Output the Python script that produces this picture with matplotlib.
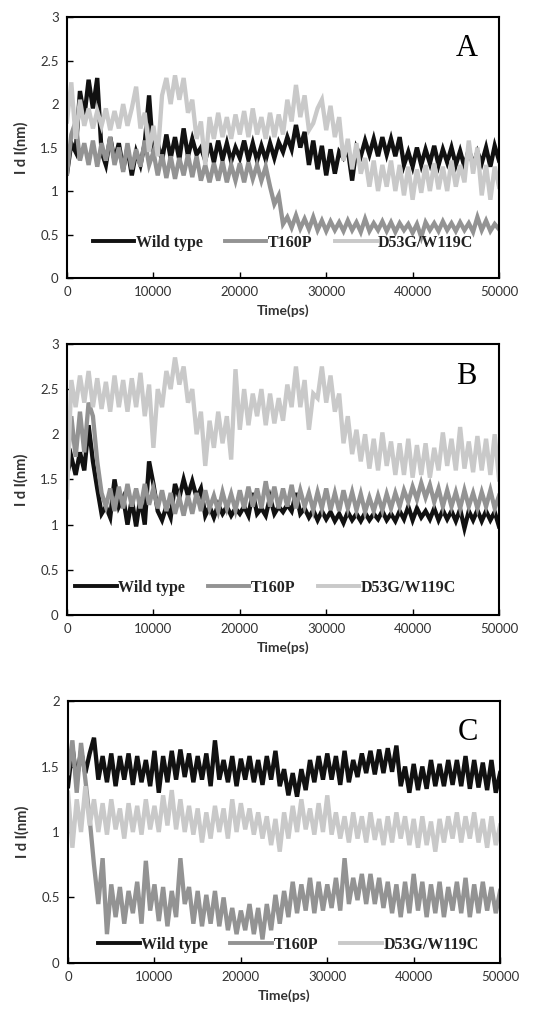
import numpy as np
import matplotlib.pyplot as plt

# time axis (ps), one reading every 500 ps
time_ps = np.arange(0, 50001, 500)

labels = ["Wild type", "T160P", "D53G/W119C"]
colors = ["#111111", "#939393", "#c9c9c9"]

# ---------------- panel A ----------------
wt_a = [1.20, 1.55, 1.45, 2.15, 1.85, 2.28, 1.95, 2.30, 1.45, 1.30,
        1.62, 1.35, 1.55, 1.25, 1.50, 1.18, 1.45, 1.30, 1.55, 2.10,
        1.40, 1.55, 1.35, 1.65, 1.38, 1.62, 1.36, 1.72, 1.40, 1.60,
        1.42, 1.50, 1.35, 1.55, 1.33, 1.58, 1.36, 1.55, 1.34, 1.50,
        1.38, 1.58, 1.36, 1.55, 1.35, 1.52, 1.36, 1.55, 1.38, 1.56,
        1.45, 1.62, 1.48, 1.76, 1.50, 1.68, 1.30, 1.58, 1.25, 1.52,
        1.18, 1.48, 1.20, 1.45, 1.38, 1.48, 1.12, 1.50, 1.40, 1.58,
        1.42, 1.60, 1.40, 1.62, 1.42, 1.60, 1.40, 1.62, 1.30, 1.45,
        1.28, 1.50, 1.30, 1.48, 1.32, 1.52, 1.30, 1.48, 1.33, 1.50,
        1.30, 1.46, 1.28, 1.48, 1.30, 1.45, 1.32, 1.50, 1.28, 1.52,
        1.35]
t160p_a = [1.20, 1.65, 1.80, 1.35, 1.55, 1.30, 1.58, 1.28, 1.55, 1.35,
           1.62, 1.30, 1.50, 1.22, 1.55, 1.25, 1.48, 1.28, 1.58, 1.30,
           1.45, 1.18, 1.42, 1.15, 1.40, 1.14, 1.38, 1.18, 1.42, 1.16,
           1.40, 1.12, 1.30, 1.10, 1.32, 1.12, 1.34, 1.10, 1.30, 1.12,
           1.32, 1.10, 1.33, 1.14, 1.30, 1.12, 1.28, 1.05, 0.85, 0.95,
           0.62, 0.70, 0.58, 0.72, 0.57, 0.68, 0.56, 0.70, 0.55, 0.66,
           0.54, 0.65, 0.55, 0.64, 0.54, 0.66, 0.55, 0.64, 0.53, 0.68,
           0.54, 0.63, 0.55, 0.65, 0.54, 0.64, 0.53, 0.63, 0.55, 0.62,
           0.52, 0.62, 0.47, 0.64, 0.55, 0.63, 0.54, 0.65, 0.55, 0.63,
           0.54, 0.64, 0.55, 0.63, 0.53, 0.70, 0.55, 0.66, 0.54, 0.62,
           0.56]
d53g_a = [1.80, 2.25, 1.60, 2.05, 1.75, 1.95, 1.72, 1.92, 1.75, 1.95,
          1.70, 1.92, 1.72, 2.00, 1.75, 1.95, 2.20, 1.72, 1.90, 1.45,
          1.75, 1.40, 2.10, 2.30, 2.00, 2.33, 2.05, 2.30, 1.90, 2.05,
          1.60, 1.80, 1.30, 1.85, 1.60, 1.90, 1.62, 1.85, 1.60, 1.88,
          1.65, 1.92, 1.62, 1.95, 1.65, 1.85, 1.60, 1.90, 1.62, 1.88,
          1.65, 2.05, 1.80, 2.22, 1.85, 2.10, 1.70, 1.78, 1.95, 2.05,
          1.70, 1.98, 1.62, 1.85, 1.35, 1.60, 1.25, 1.55, 1.20, 1.38,
          1.05, 1.35, 1.00, 1.30, 1.05, 1.35, 1.00, 1.30, 0.95, 1.28,
          0.90, 1.25, 0.98, 1.30, 1.00, 1.32, 1.02, 1.28, 1.00, 1.35,
          1.05, 1.30, 1.10, 1.58, 1.20, 1.50, 0.95, 1.30, 0.90, 1.28,
          1.05]

# ---------------- panel B ----------------
wt_b = [1.55, 1.75, 1.55, 1.80, 1.60, 2.10, 1.70, 1.40, 1.12, 1.20,
        1.08, 1.50, 1.20, 1.30, 1.00, 1.28, 0.98, 1.30, 1.00, 1.70,
        1.45, 1.15, 1.05, 1.20, 1.08, 1.45, 1.30, 1.50, 1.32, 1.48,
        1.30, 1.40, 1.10, 1.20, 1.08, 1.22, 1.12, 1.20, 1.10, 1.18,
        1.12, 1.20, 1.10, 1.35, 1.12, 1.18, 1.10, 1.30, 1.12, 1.20,
        1.14, 1.22, 1.15, 1.35, 1.12, 1.18, 1.08, 1.16, 1.05, 1.15,
        1.06, 1.14, 1.04, 1.12, 1.02, 1.14, 1.05, 1.12, 1.04, 1.13,
        1.05, 1.12, 1.06, 1.15, 1.05, 1.12, 1.04, 1.15, 1.06, 1.20,
        1.05, 1.18, 1.08, 1.15, 1.06, 1.18, 1.05, 1.16, 1.06, 1.15,
        1.04, 1.17, 0.96, 1.15, 1.05, 1.16, 1.04, 1.15, 1.05, 1.14,
        0.98]
t160p_b = [1.60, 2.20, 1.75, 2.25, 1.80, 2.35, 2.20, 1.70, 1.35, 1.20,
           1.40, 1.15, 1.42, 1.18, 1.45, 1.20, 1.40, 1.18, 1.45, 1.22,
           1.40, 1.18, 1.38, 1.15, 1.35, 1.12, 1.30, 1.10, 1.32, 1.12,
           1.35, 1.15, 1.38, 1.18, 1.32, 1.15, 1.36, 1.18, 1.34, 1.16,
           1.38, 1.18, 1.42, 1.20, 1.40, 1.18, 1.48, 1.20, 1.42, 1.18,
           1.40, 1.20, 1.44, 1.18, 1.38, 1.20, 1.35, 1.16, 1.36, 1.18,
           1.40, 1.16, 1.35, 1.15, 1.38, 1.18, 1.36, 1.16, 1.34, 1.14,
           1.30, 1.15, 1.32, 1.16, 1.34, 1.18, 1.35, 1.20, 1.38, 1.25,
           1.42, 1.28, 1.46, 1.30, 1.44, 1.25, 1.40, 1.20, 1.38, 1.20,
           1.36, 1.18, 1.38, 1.20, 1.35, 1.18, 1.36, 1.20, 1.38, 1.18,
           1.32]
d53g_b = [1.30, 2.60, 2.30, 2.65, 2.35, 2.70, 2.30, 2.62, 2.28, 2.58,
          2.25, 2.65, 2.30, 2.60, 2.25, 2.62, 2.30, 2.68, 2.20, 2.55,
          1.85, 2.50, 2.30, 2.70, 2.50, 2.85, 2.55, 2.75, 2.35, 2.50,
          2.00, 2.25, 1.65, 2.15, 1.85, 2.25, 1.90, 2.20, 1.72, 2.72,
          2.05, 2.50, 2.10, 2.45, 2.20, 2.50, 2.10, 2.45, 2.12, 2.40,
          2.15, 2.55, 2.30, 2.75, 2.30, 2.60, 2.05, 2.45, 2.40, 2.75,
          2.35, 2.65, 2.25, 2.45, 1.90, 2.20, 1.78, 2.05, 1.70, 2.00,
          1.62, 1.95, 1.60, 2.02, 1.65, 1.92, 1.55, 1.90, 1.55, 1.95,
          1.52, 1.88, 1.55, 1.90, 1.52, 1.85, 1.60, 2.02, 1.65, 1.95,
          1.60, 2.08, 1.62, 1.92, 1.58, 1.98, 1.60, 1.95, 1.55, 2.00,
          1.50]

# ---------------- panel C ----------------
wt_c = [1.35, 1.65, 1.40, 1.62, 1.45, 1.60, 1.72, 1.40, 1.58, 1.38,
        1.60, 1.35, 1.58, 1.40, 1.60, 1.36, 1.58, 1.38, 1.55, 1.35,
        1.62, 1.30, 1.58, 1.38, 1.62, 1.40, 1.63, 1.42, 1.60, 1.38,
        1.58, 1.40, 1.60, 1.35, 1.70, 1.40, 1.55, 1.38, 1.58, 1.35,
        1.56, 1.40, 1.58, 1.38, 1.55, 1.36, 1.58, 1.40, 1.62, 1.35,
        1.48, 1.28, 1.45, 1.27, 1.48, 1.32, 1.55, 1.38, 1.58, 1.40,
        1.60, 1.40, 1.58, 1.36, 1.62, 1.38, 1.55, 1.42, 1.60, 1.45,
        1.62, 1.44, 1.63, 1.45, 1.64, 1.46, 1.66, 1.35, 1.50, 1.30,
        1.52, 1.32, 1.50, 1.33, 1.55, 1.35, 1.52, 1.35, 1.55, 1.36,
        1.55, 1.35, 1.58, 1.33, 1.55, 1.34, 1.53, 1.32, 1.55, 1.30,
        1.45]
t160p_c = [1.45, 1.70, 1.30, 1.68, 1.40, 1.10, 0.75, 0.45, 0.80, 0.22,
           0.60, 0.35, 0.58, 0.30, 0.55, 0.38, 0.62, 0.30, 0.78, 0.40,
           0.60, 0.32, 0.58, 0.28, 0.55, 0.35, 0.80, 0.45, 0.58, 0.30,
           0.55, 0.28, 0.52, 0.30, 0.55, 0.28, 0.50, 0.25, 0.42, 0.22,
           0.40, 0.25, 0.45, 0.22, 0.42, 0.18, 0.45, 0.25, 0.52, 0.30,
           0.55, 0.35, 0.62, 0.38, 0.60, 0.40, 0.65, 0.38, 0.62, 0.40,
           0.60, 0.42, 0.65, 0.40, 0.80, 0.45, 0.65, 0.48, 0.68, 0.45,
           0.68, 0.45, 0.65, 0.42, 0.62, 0.38, 0.60, 0.35, 0.62, 0.38,
           0.68, 0.40, 0.62, 0.35, 0.60, 0.38, 0.62, 0.35, 0.58, 0.40,
           0.62, 0.38, 0.65, 0.35, 0.60, 0.38, 0.62, 0.40, 0.58, 0.38,
           0.55]
d53g_c = [1.30, 0.88, 1.25, 1.00, 1.35, 1.05, 1.25, 1.00, 1.22, 0.98,
          1.25, 1.02, 1.18, 0.95, 1.22, 1.00, 1.20, 0.98, 1.25, 1.02,
          1.20, 1.00, 1.28, 1.05, 1.32, 1.02, 1.25, 1.00, 1.20, 0.98,
          1.18, 0.92, 1.15, 0.95, 1.20, 1.00, 1.18, 0.95, 1.25, 1.00,
          1.22, 1.02, 1.18, 0.98, 1.15, 0.95, 1.12, 0.90, 1.10, 0.85,
          1.15, 0.95, 1.20, 1.00, 1.25, 1.02, 1.18, 0.98, 1.22, 1.00,
          1.28, 0.98, 1.15, 0.95, 1.12, 0.92, 1.15, 0.95, 1.12, 0.92,
          1.15, 0.94, 1.10, 0.90, 1.12, 0.92, 1.15, 0.95, 1.12, 0.90,
          1.10, 0.88, 1.12, 0.90, 1.08, 0.85, 1.10, 0.92, 1.12, 0.95,
          1.15, 0.92, 1.12, 0.95, 1.15, 0.92, 1.10, 0.88, 1.12, 0.90,
          1.05]

panels = [
    ("A", [wt_a, t160p_a, d53g_a], 3, (0.50, 0.134)),
    ("B", [wt_b, t160p_b, d53g_b], 3, (0.46, 0.10)),
    ("C", [wt_c, t160p_c, d53g_c], 2, (0.51, 0.07)),
]
# axes boxes in figure fraction (left, bottom, width, height)
boxes = [
    (0.125, 0.7272, 0.806, 0.256),
    (0.125, 0.3965, 0.806, 0.266),
    (0.127, 0.055, 0.806, 0.257),
]

fig = plt.figure(figsize=(5.36, 10.19), dpi=100)

for (letter, series, ymax, leg_pos), box in zip(panels, boxes):
    ax = fig.add_axes(box)
    for vals, lab, col in zip(series, labels, colors):
        ax.plot(time_ps, vals, color=col, lw=3.1, label=lab,
                solid_joinstyle="miter")

    ax.set_xlim(0, 50000)
    ax.set_ylim(0, ymax)
    ax.set_xticks(np.arange(0, 50001, 10000))
    yt = np.arange(0, ymax + 0.01, 0.5)
    ax.set_yticks(yt)
    ax.set_yticklabels(["%g" % v for v in yt])
    ax.tick_params(direction="in", length=4, width=1, labelsize=9.5,
                   labelcolor="#333333", pad=6)
    for lbl in ax.get_xticklabels() + ax.get_yticklabels():
        lbl.set_family("Lato")
    for sp in ax.spines.values():
        sp.set_linewidth(1.5)

    ax.set_xlabel("Time(ps)", fontsize=10, fontweight="bold",
                  family="Lato", color="#333333", labelpad=4)
    ax.set_ylabel("I d I(nm)", fontsize=10.5, fontweight="bold",
                  family="Lato", color="#333333", labelpad=8)

    ax.text(0.925, 0.88, letter, transform=ax.transAxes, fontsize=22,
            family="Liberation Serif", ha="center", va="center")

    leg = ax.legend(loc="center", bbox_to_anchor=leg_pos, ncol=3,
                    frameon=False, handlelength=2.6, handletextpad=0.1,
                    columnspacing=1.4,
                    prop={"family": "Liberation Serif", "weight": "bold",
                          "size": 11.5})
    for ln in leg.get_lines():
        ln.set_linewidth(2.8)
    for t in leg.get_texts():
        t.set_color("#222222")

fig.savefig("out.png", dpi=100)
